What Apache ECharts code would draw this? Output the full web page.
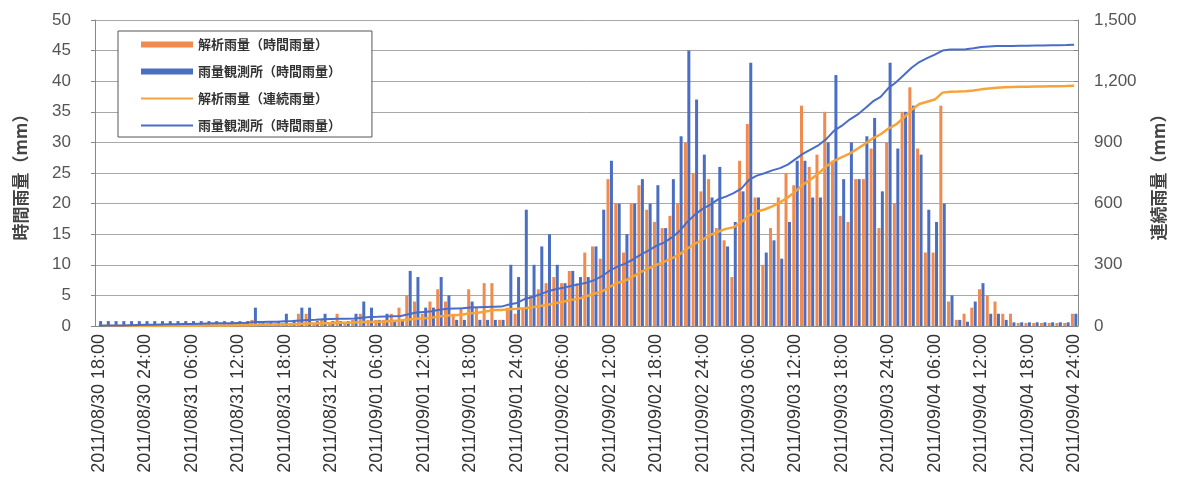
<!DOCTYPE html>
<html>
<head>
<meta charset="utf-8">
<script src="https://cdn.jsdelivr.net/npm/echarts/dist/echarts.min.js"></script>
<style>
    html, body { margin: 0; padding: 0; background: #fff; }
    #chart { width: 1188px; height: 495px; }
</style>
</head>
<body>
<div id="chart"></div>
<script>
// Series names
var seriesNames = ['解析雨量（時間雨量）', '雨量観測所（時間雨量）', '解析雨量（連続雨量）', '雨量観測所（時間雨量）'];

// Tick labels, one every 6 hours
var tickLabels = [
    '2011/08/30 18:00', '2011/08/30 24:00', '2011/08/31 06:00', '2011/08/31 12:00',
    '2011/08/31 18:00', '2011/08/31 24:00', '2011/09/01 06:00', '2011/09/01 12:00',
    '2011/09/01 18:00', '2011/09/01 24:00', '2011/09/02 06:00', '2011/09/02 12:00',
    '2011/09/02 18:00', '2011/09/02 24:00', '2011/09/03 06:00', '2011/09/03 12:00',
    '2011/09/03 18:00', '2011/09/03 24:00', '2011/09/04 06:00', '2011/09/04 12:00',
    '2011/09/04 18:00', '2011/09/04 24:00'
];

// Hourly rainfall, radar analysis (mm)
var hourlyRadar = [
    0, 0, 0, 0, 0, 0, 0, 0, 0, 0,
    0, 0.5, 0.5, 0.5, 0.5, 0.5, 0.5, 0.5, 0.5, 0.5,
    1, 0.5, 0.5, 0.5, 0.5, 0.5, 2, 2, 0.5, 1,
    0.5, 2, 0.5, 1, 2, 1, 1, 1, 2, 3,
    5, 4, 2, 4, 6, 4, 2, 3, 6, 3,
    7, 7, 1, 3, 2, 3, 5, 6, 7, 8,
    7, 9, 7, 12, 13, 11, 24, 20, 12, 20,
    23, 19, 17, 16, 18, 20, 30, 25, 22, 24,
    16, 14, 8, 27, 33, 21, 10, 16, 21, 25,
    23, 36, 26, 28, 35, 27, 18, 17, 24, 24,
    29, 16, 30, 20, 35, 39, 29, 12, 12, 36,
    4, 1, 2, 3, 6, 5, 4, 2, 2, 0.5,
    0.5, 0.5, 0.5, 0.5, 0.5, 0.5, 2
];

// Hourly rainfall, gauge station (mm)
var hourlyGauge = [
    0.8, 0.8, 0.8, 0.8, 0.8, 0.8, 0.8, 0.8, 0.8, 0.8,
    0.8, 0.8, 0.8, 0.8, 0.8, 0.8, 0.8, 0.8, 0.8, 0.8,
    3, 0.8, 0.8, 0.8, 2, 0.8, 3, 3, 0.8, 2,
    0.8, 0.8, 0.8, 2, 4, 3, 1, 2, 1, 1,
    9, 8, 3, 3, 8, 5, 1, 1, 4, 1,
    1, 1, 1, 10, 8, 19, 10, 13, 15, 10,
    7, 9, 8, 8, 13, 19, 27, 20, 15, 20,
    24, 20, 23, 16, 24, 31, 45, 37, 28, 21,
    26, 13, 17, 22, 43, 21, 12, 14, 11, 17,
    27, 27, 21, 21, 30, 41, 24, 30, 24, 31,
    34, 22, 43, 29, 35, 36, 28, 19, 17, 20,
    5, 1, 0.7, 4, 7, 2, 2, 1, 0.6, 0.6,
    0.6, 0.6, 0.6, 0.6, 0.6, 0.6, 2
];

// Continuous rainfall, radar analysis (mm)
var totalRadar = [
    0, 0, 0, 0, 0, 0, 0, 0, 0, 0,
    0, 0, 1, 1, 2, 2, 3, 3, 4, 4,
    5, 6, 6, 7, 7, 8, 10, 12, 12, 13,
    14, 16, 16, 17, 19, 20, 21, 22, 24, 27,
    32, 36, 38, 41, 47, 51, 53, 56, 62, 65,
    71, 78, 79, 82, 84, 87, 92, 98, 104, 112,
    119, 128, 134, 146, 158, 169, 192, 211, 223, 242,
    264, 282, 299, 314, 331, 350, 379, 403, 424, 447,
    462, 476, 484, 509, 541, 561, 571, 586, 606, 630,
    660, 694, 720, 748, 783, 810, 828, 845, 869, 893,
    920, 940, 968, 988, 1022, 1060, 1088, 1099, 1110, 1144,
    1148, 1149, 1151, 1154, 1160, 1164, 1168, 1170, 1172, 1173,
    1173, 1174, 1174, 1175, 1175, 1176, 1178
];

// Continuous rainfall, gauge station (mm)
var totalGauge = [
    1, 2, 2, 3, 4, 5, 6, 6, 7, 8,
    9, 10, 10, 11, 12, 13, 14, 14, 15, 16,
    19, 20, 21, 21, 23, 24, 27, 30, 31, 33,
    34, 35, 35, 37, 41, 44, 45, 47, 48, 49,
    58, 66, 69, 72, 80, 85, 86, 87, 91, 92,
    93, 94, 95, 105, 113, 132, 142, 155, 170, 180,
    187, 196, 204, 212, 225, 244, 271, 291, 306, 326,
    350, 370, 393, 409, 433, 464, 509, 546, 574, 595,
    621, 634, 651, 673, 716, 737, 749, 763, 774, 791,
    818, 845, 866, 887, 917, 958, 982, 1012, 1036, 1067,
    1101, 1123, 1166, 1195, 1230, 1266, 1294, 1313, 1330, 1350,
    1355, 1356, 1357, 1361, 1368, 1370, 1372, 1373, 1373, 1374,
    1374, 1375, 1375, 1376, 1376, 1377, 1379
];

// One category per hour
var hours = hourlyGauge.map(function (v, i) { return i; });

var chart = echarts.init(document.getElementById('chart'));

var axisFont = 'Liberation Sans, Arial, sans-serif';
var cjkFont = 'Noto Sans CJK JP, sans-serif';

chart.setOption({
    animation: false,
    backgroundColor: '#fff',

    grid: {
        left: 95,
        right: 110,
        top: 20,
        bottom: 169
    },

    // Legend box in the upper left of the plot
    legend: {
        orient: 'vertical',
        left: 118,
        top: 31,
        padding: [7, 28, 5, 22],
        itemGap: 14,
        itemWidth: 52,
        itemHeight: 6,
        backgroundColor: '#fff',
        borderColor: '#555',
        borderWidth: 1,
        borderRadius: 0,
        data: [
            { name: seriesNames[0], icon: 'rect' },
            { name: seriesNames[1], icon: 'rect' },
            { name: seriesNames[2], itemStyle: { opacity: 0 } },
            { name: seriesNames[3] + ' ', itemStyle: { opacity: 0 } }
        ],
        textStyle: {
            fontFamily: cjkFont,
            fontSize: 13,
            fontWeight: 'bold',
            color: '#333'
        }
    },

    xAxis: [{
        type: 'category',
        data: hours,
        boundaryGap: true,
        axisLine: { lineStyle: { color: '#888', width: 1 } },
        axisTick: { show: false },
        splitLine: { show: false },
        axisLabel: {
            interval: 5,
            rotate: 90,
            margin: 8,
            fontFamily: axisFont,
            fontSize: 18,
            color: '#333',
            formatter: function (v, i) {
                return tickLabels[i / 6];
            }
        }
    }],

    yAxis: [
        {
            type: 'value',
            min: 0,
            max: 50,
            interval: 5,
            name: '時間雨量（mm）',
            nameLocation: 'middle',
            nameRotate: 90,
            nameGap: 66,
            nameTextStyle: {
                fontFamily: cjkFont,
                fontSize: 17,
                fontWeight: 'bold',
                color: '#444'
            },
            axisLine: { show: true, lineStyle: { color: '#888' } },
            axisTick: { show: true, length: 4, lineStyle: { color: '#888' } },
            axisLabel: {
                margin: 24,
                fontFamily: axisFont,
                fontSize: 17,
                color: '#555'
            },
            splitLine: { lineStyle: { color: '#a8a8a8', width: 1 } }
        },
        {
            type: 'value',
            min: 0,
            max: 1500,
            interval: 150,
            position: 'right',
            name: '連続雨量（mm）',
            nameLocation: 'middle',
            nameRotate: 90,
            nameGap: 72,
            nameTextStyle: {
                fontFamily: cjkFont,
                fontSize: 17,
                fontWeight: 'bold',
                color: '#444'
            },
            axisLine: { show: true, lineStyle: { color: '#888' } },
            axisTick: { show: true, inside: true, length: 4, lineStyle: { color: '#888' } },
            axisLabel: {
                margin: 16,
                fontFamily: axisFont,
                fontSize: 17,
                color: '#555',
                formatter: function (v) {
                    if (v % 300 !== 0) return '';
                    return String(v).replace(/\B(?=(\d{3})+(?!\d))/g, ',');
                }
            },
            splitLine: { show: false }
        }
    ],

    series: [
        {
            name: seriesNames[0],
            type: 'bar',
            barWidth: 3,
            barGap: '15%',
            itemStyle: { color: '#F08A4E' },
            data: hourlyRadar
        },
        {
            name: seriesNames[1],
            type: 'bar',
            barWidth: 3,
            itemStyle: { color: '#4A6FC2' },
            data: hourlyGauge
        },
        {
            name: seriesNames[2],
            type: 'line',
            yAxisIndex: 1,
            symbol: 'none',
            lineStyle: { color: '#F6A43A', width: 2.5 },
            itemStyle: { color: '#F6A43A' },
            z: 5,
            data: totalRadar
        },
        {
            name: seriesNames[3] + ' ',
            type: 'line',
            yAxisIndex: 1,
            symbol: 'none',
            lineStyle: { color: '#4A6CC9', width: 2 },
            itemStyle: { color: '#4A6CC9' },
            z: 6,
            data: totalGauge
        }
    ]
});
</script>
</body>
</html>
